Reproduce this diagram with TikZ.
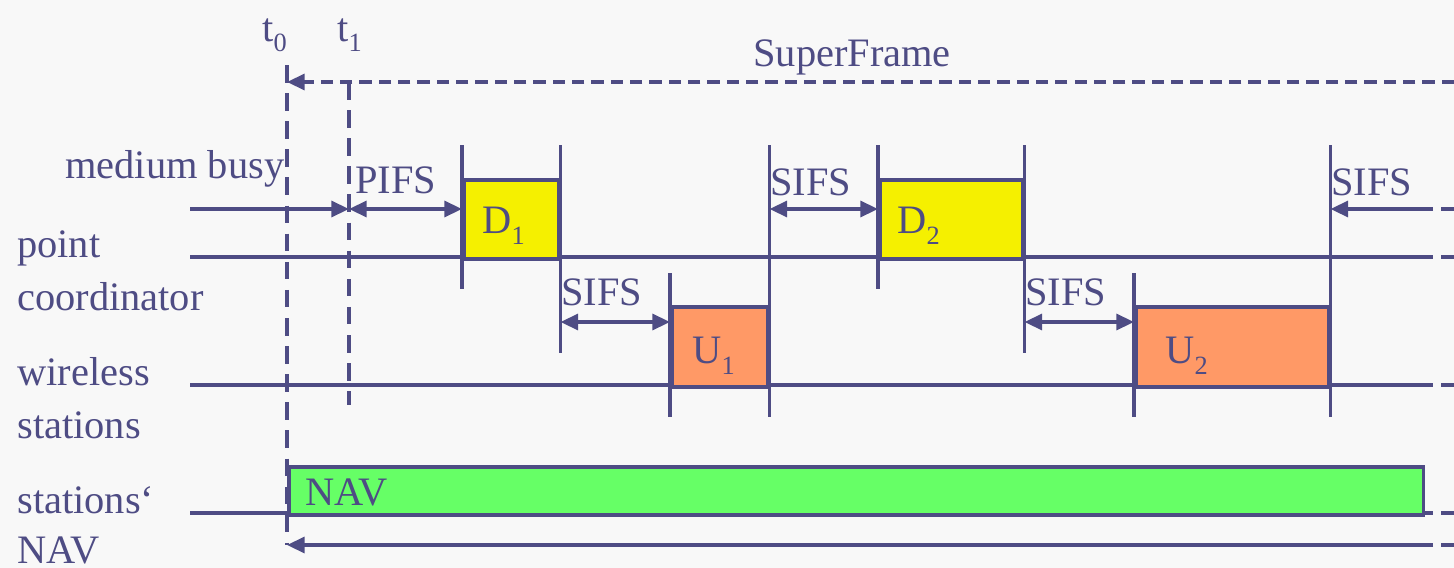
\documentclass[tikz,border=0pt]{standalone}
\usepackage{fontspec}
\setmainfont{Liberation Serif}
\usepackage{tikz}
\usetikzlibrary{arrows.meta, positioning, calc}
\definecolor{bleuTrait}{RGB}{78, 76, 132}
\definecolor{fondGris}{RGB}{248, 248, 248}
\definecolor{jauneD}{RGB}{245, 240, 0}
\definecolor{orangeU}{RGB}{255, 153, 102}
\definecolor{vertNAV}{RGB}{102, 255, 102}
\newcommand{\subidx}[1]{\raisebox{-0.27em}{\fontsize{15}{15}\selectfont #1}}

\begin{document}
\begin{tikzpicture}[x=0.02cm, y=-0.02cm,
  >={Triangle[length=10pt, width=9pt]},
  txt/.style={font=\fontsize{23}{27}\selectfont, text=bleuTrait,
    inner sep=0pt, anchor=base west},
  lane/.style={line width=2pt, draw=bleuTrait},
  dashlane/.style={lane, dash pattern=on 10pt off 6pt},
  framedash/.style={lane, dash pattern=on 7pt off 4pt},
  pkt/.style={draw=bleuTrait, line width=2pt, inner sep=0pt,
    anchor=north west},
]
\useasboundingbox (0,0) rectangle (1454,568);
\fill[fondGris] (0,0) rectangle (1454,568);

% time marks
\coordinate (t0top) at (287,65);
\coordinate (t0bot) at (287,545);
\coordinate (t1top) at (349,82);
\coordinate (t1bot) at (349,405);

% lanes
\draw[lane] (190,257) -- (1433,257);  \draw[lane] (1441,257) -- (1454,257);
\draw[lane] (190,385) -- (1433,385);  \draw[lane] (1441,385) -- (1454,385);
\draw[lane] (190,513) -- (1433,513);  \draw[lane] (1441,513) -- (1454,513);

% packets
\node[pkt, fill=jauneD,  minimum width=1.9cm,  minimum height=1.58cm] (D1)  at (462,178) {};
\node[pkt, fill=orangeU, minimum width=1.92cm, minimum height=1.6cm]  (U1)  at (670,305) {};
\node[pkt, fill=jauneD,  minimum width=2.86cm, minimum height=1.58cm] (D2)  at (878,178) {};
\node[pkt, fill=orangeU, minimum width=3.86cm, minimum height=1.6cm]  (U2)  at (1134,305) {};
\node[pkt, fill=vertNAV, minimum width=22.7cm, minimum height=0.96cm] (NAV) at (287,465) {};

% ticks
\draw[lane] (D1.west |- 0,145) -- (D1.west |- 0,289);
\draw[lane] (D1.east |- 0,145) -- (D1.east |- 0,353);
\draw[lane] (U1.west |- 0,273) -- (U1.west |- 0,417);
\draw[lane] (U1.east |- 0,145) -- (U1.east |- 0,417);
\draw[lane] (D2.west |- 0,145) -- (D2.west |- 0,289);
\draw[lane] (D2.east |- 0,145) -- (D2.east |- 0,353);
\draw[lane] (U2.west |- 0,273) -- (U2.west |- 0,417);
\draw[lane] (U2.east |- 0,145) -- (U2.east |- 0,417);

% t0, t1 and superframe
\draw[dashlane] (t0top) -- (t0bot);
\draw[dashlane] (t1top) -- (t1bot);
\draw[framedash, ->] (1454,82) -- (t0top |- t1top);

% intervals
\draw[lane, ->]  (190,209) -- (t1top |- 0,209);
\draw[lane, <->] (t1top |- 0,209) -- (D1.west |- 0,209);
\draw[lane, <->] (D1.east |- 0,322) -- (U1.west |- 0,322);
\draw[lane, <->] (U1.east |- 0,209) -- (D2.west |- 0,209);
\draw[lane, <->] (D2.east |- 0,322) -- (U2.west |- 0,322);
\draw[lane, ->]  (1433,209) -- (U2.east |- 0,209);
\draw[lane] (1441,209) -- (1454,209);
\draw[lane, ->]  (1433,545) -- (t0bot);
\draw[lane] (1441,545) -- (1454,545);

% labels
\node[txt] (lt0) at (262,41) {t\subidx{0}};
\node[txt] (lt1) at (337,41) {t\subidx{1}};
\node[txt] (lsf) at (753,66) {SuperFrame};
\node[txt] (lbusy) at (65,178) {medium busy};
\node[txt] (lpc1) at (17,257) {point};
\node[txt] (lpc2) at (17,310) {coordinator};
\node[txt] (lws1) at (17,385) {wireless};
\node[txt] (lws2) at (17,438) {stations};
\node[txt] (lnav1) at (17,513) {stations‘};
\node[txt] (lnav2) at (17,563) {NAV};
\node[txt] (lpifs)  at (355,193) {PIFS};
\node[txt] (lsifs1) at (561,305) {SIFS};
\node[txt] (lsifs2) at (770,195) {SIFS};
\node[txt] (lsifs3) at (1025,305) {SIFS};
\node[txt] (lsifs4) at (1331,195) {SIFS};
\node[txt] (tD1) at ($(D1.south west)+(20,-27)$) {D\subidx{1}};
\node[txt] (tU1) at ($(U1.south west)+(22,-25)$) {U\subidx{1}};
\node[txt] (tD2) at ($(D2.south west)+(19,-27)$) {D\subidx{2}};
\node[txt] (tU2) at ($(U2.south west)+(31,-25)$) {U\subidx{2}};
\node[txt] (tNAV) at ($(NAV.south west)+(18,-11)$) {NAV};
\end{tikzpicture}
\end{document}
